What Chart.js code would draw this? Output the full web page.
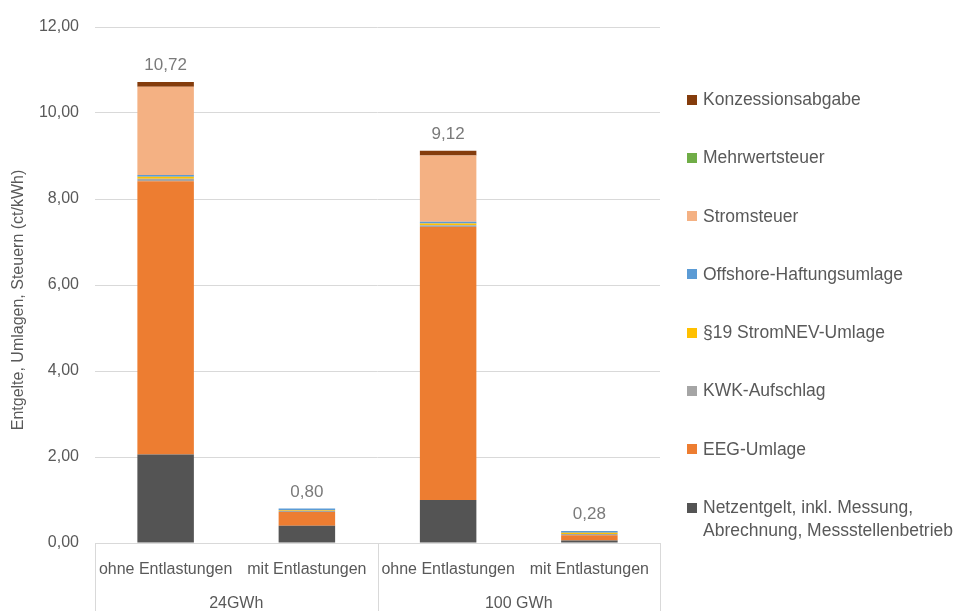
<!DOCTYPE html>
<html lang="de">
<head>
    <meta charset="UTF-8">
    <title>Entgelte, Umlagen, Steuern</title>
    <script src="https://cdn.jsdelivr.net/npm/chart.js"></script>
    <style>
        body {
            margin: 0;
            padding: 0;
            background: #ffffff;
            font-family: 'Liberation Sans', Arial, sans-serif;
        }

        .wrap {
            position: relative;
            width: 954px;
            height: 611px;
        }

        .legend {
            position: absolute;
            left: 686px;
            top: 88px;
            margin: 0;
            padding: 0;
            list-style: none;
            font-size: 17.5px;
            line-height: 23px;
            color: #595959;
        }

        .legend li {
            position: relative;
            padding-left: 17px;
            margin-bottom: 35.3px;
            white-space: pre-line;
        }

        .legend .box {
            position: absolute;
            left: 1px;
            top: 6.5px;
            width: 10px;
            height: 10px;
        }
    </style>
</head>
<body>

<div class="wrap">
    <canvas id="chart"></canvas>
    <ul class="legend" id="legend"></ul>
</div>

<script>
    // Kategorien und Gruppen
    var categories = ['ohne Entlastungen', 'mit Entlastungen', 'ohne Entlastungen', 'mit Entlastungen'];
    var groups = ['24GWh', '100 GWh'];

    // Werte in ct/kWh
    var netzentgelt = [2.06, 0.40, 1.00, 0.06];
    var eegUmlage = [6.35, 0.32, 6.35, 0.12];
    var kwkAufschlag = [0.06, 0.03, 0.04, 0.03];
    var stromnevUmlage = [0.05, 0.02, 0.04, 0.03];
    var offshoreUmlage = [0.04, 0.03, 0.04, 0.04];
    var stromsteuer = [2.05, 0, 1.54, 0];
    var mehrwertsteuer = [0, 0, 0, 0];
    var konzessionsabgabe = [0.11, 0, 0.11, 0];

    var yTicks = [0, 2, 4, 6, 8, 10, 12];
    var yTitle = 'Entgelte, Umlagen, Steuern (ct/kWh)';

    var seriesNames = [
        'Netzentgelt, inkl. Messung,\nAbrechnung, Messstellenbetrieb',
        'EEG-Umlage',
        'KWK-Aufschlag',
        '§19 StromNEV-Umlage',
        'Offshore-Haftungsumlage',
        'Stromsteuer',
        'Mehrwertsteuer',
        'Konzessionsabgabe'
    ];
    var seriesValues = [netzentgelt, eegUmlage, kwkAufschlag, stromnevUmlage,
        offshoreUmlage, stromsteuer, mehrwertsteuer, konzessionsabgabe];
    var seriesColors = ['#545454', '#ED7D31', '#A5A5A5', '#FFC000',
        '#5B9BD5', '#F4B183', '#70AD47', '#843C0C'];

    function fmt(v) {
        return v.toFixed(2).replace('.', ',');
    }

    var datasets = seriesNames.map(function (name, i) {
        return {
            label: name,
            data: seriesValues[i],
            backgroundColor: seriesColors[i],
            borderWidth: 0,
            categoryPercentage: 1,
            barPercentage: 0.4
        };
    });

    // Summen oben auf den Saeulen
    var totalsPlugin = {
        id: 'totals',
        afterDatasetsDraw: function (chart) {
            var ctx = chart.ctx;
            var x = chart.scales.x, y = chart.scales.y;
            ctx.save();
            ctx.font = '17px "Liberation Sans", Arial, sans-serif';
            ctx.fillStyle = '#7a7a7a';
            ctx.textAlign = 'center';
            ctx.textBaseline = 'bottom';
            categories.forEach(function (c, i) {
                var total = 0;
                seriesValues.forEach(function (s) { total += s[i]; });
                ctx.fillText(fmt(total), x.getPixelForValue(i), y.getPixelForValue(total) - 8);
            });
            ctx.restore();
        }
    };

    // Trennlinien der Gruppen unter der x-Achse + Achsentitel
    var extrasPlugin = {
        id: 'extras',
        afterDraw: function (chart) {
            var ctx = chart.ctx;
            var x = chart.scales.x;
            var area = chart.chartArea;
            var mid = (x.getPixelForValue(1) + x.getPixelForValue(2)) / 2;
            ctx.save();
            ctx.strokeStyle = '#d9d9d9';
            ctx.lineWidth = 1;
            [x.left, mid, x.right].forEach(function (px) {
                ctx.beginPath();
                ctx.moveTo(Math.round(px) + 0.5, area.bottom);
                ctx.lineTo(Math.round(px) + 0.5, chart.height);
                ctx.stroke();
            });

            // Titel der y-Achse, etwas unter der Mitte wie im Original
            ctx.translate(19, (area.top + area.bottom) / 2 + 15);
            ctx.rotate(-Math.PI / 2);
            ctx.font = '16px "Liberation Sans", Arial, sans-serif';
            ctx.fillStyle = '#595959';
            ctx.textAlign = 'center';
            ctx.textBaseline = 'middle';
            ctx.fillText(yTitle, 0, 0);
            ctx.restore();
        }
    };

    var canvas = document.getElementById('chart');
    canvas.width = 954;
    canvas.height = 611;

    new Chart(canvas.getContext('2d'), {
        type: 'bar',
        data: {
            labels: categories,
            datasets: datasets
        },
        options: {
            responsive: false,
            animation: false,
            layout: {
                padding: { left: 5, right: 294, top: 27, bottom: 0 }
            },
            plugins: {
                legend: { display: false },
                tooltip: { enabled: false }
            },
            scales: {
                x: {
                    stacked: true,
                    afterFit: function (axis) { axis.height = 34; },
                    grid: { display: false, drawTicks: false },
                    border: { display: true, color: '#d9d9d9' },
                    ticks: {
                        color: '#595959',
                        padding: 17,
                        maxRotation: 0,
                        font: { family: 'Liberation Sans', size: 16 }
                    }
                },
                x2: {
                    type: 'category',
                    labels: groups,
                    position: 'bottom',
                    offset: true,
                    afterFit: function (axis) { axis.height = 34; },
                    grid: { display: false, drawTicks: false },
                    border: { display: false },
                    ticks: {
                        color: '#595959',
                        padding: 17,
                        font: { family: 'Liberation Sans', size: 16 }
                    }
                },
                y: {
                    stacked: true,
                    min: 0,
                    max: 12,
                    afterFit: function (axis) { axis.width = 90; },
                    afterBuildTicks: function (axis) {
                        axis.ticks = yTicks.map(function (v) { return { value: v }; });
                    },
                    grid: { color: '#d9d9d9', drawTicks: false },
                    border: { display: false },
                    ticks: {
                        color: '#595959',
                        padding: 16,
                        font: { family: 'Liberation Sans', size: 16 },
                        callback: function (v) { return fmt(v); }
                    },
                    title: { display: false }
                }
            }
        },
        plugins: [totalsPlugin, extrasPlugin]
    });

    // Legende (umgekehrte Reihenfolge wie im Original)
    var legend = document.getElementById('legend');
    for (var i = seriesNames.length - 1; i >= 0; i--) {
        var li = document.createElement('li');
        var box = document.createElement('span');
        box.className = 'box';
        box.style.background = seriesColors[i];
        li.appendChild(box);
        li.appendChild(document.createTextNode(seriesNames[i]));
        legend.appendChild(li);
    }
</script>
</body>
</html>
